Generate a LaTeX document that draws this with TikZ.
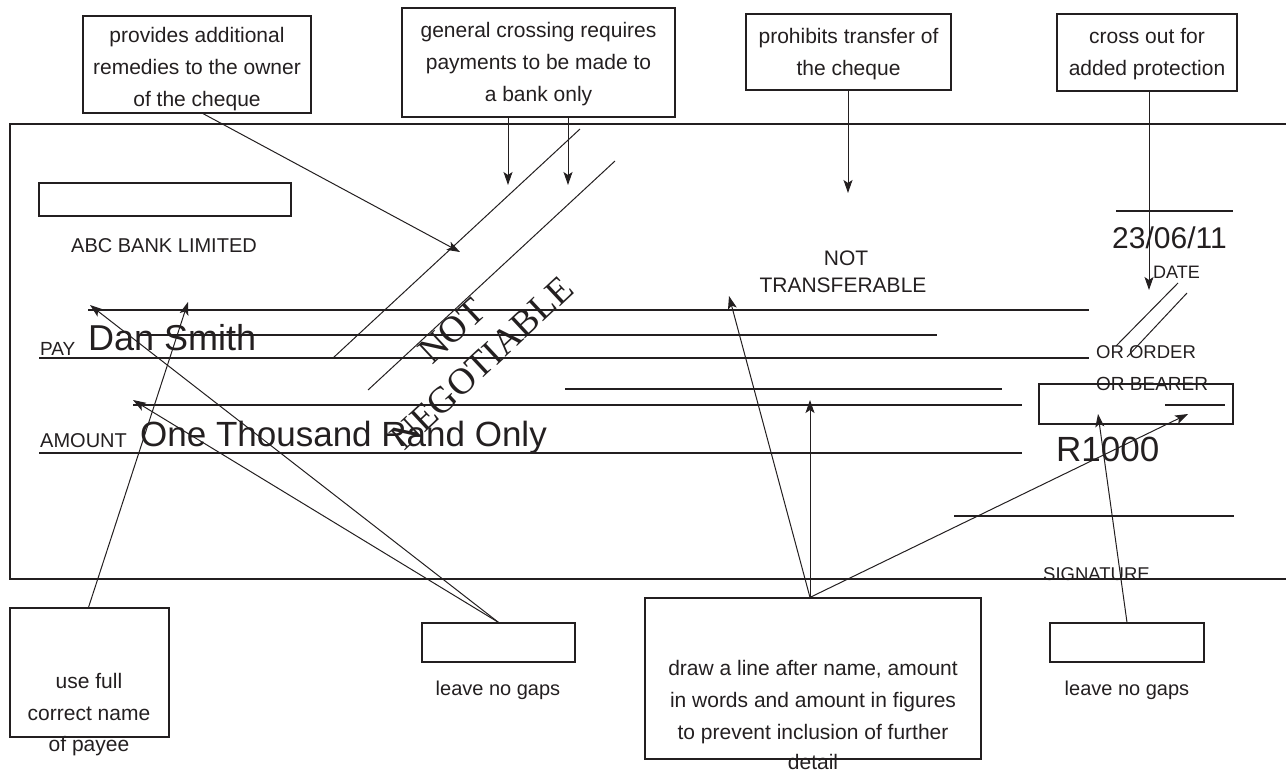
\documentclass[tikz,border=0pt]{standalone}
\usepackage{fontspec}
\setmainfont{Liberation Sans}
\newfontfamily\serifx{Liberation Serif}
\usetikzlibrary{arrows.meta,calc}
\definecolor{ink}{RGB}{35,31,32}
\begin{document}
\begin{tikzpicture}[x=1pt,y=-1pt,color=ink,
  thickline/.style={line width=2.6pt},
  thinline/.style={line width=1.2pt},
  conn/.style={line width=1pt},
  arr/.style={conn,-{Stealth[length=13pt,width=9pt,inset=3pt]}},
  callout/.style={draw,line width=1.2pt,align=center,inner sep=0pt,font=\fontsize{21}{32}\selectfont},
  emptybox/.style={draw,line width=1.2pt,inner sep=0pt},
  chequebox/.style={draw,line width=2.6pt,inner sep=0pt},
  lbl/.style={inner sep=0pt,anchor=base west},
  clbl/.style={inner sep=0pt,anchor=base,font=\fontsize{21}{25}\selectfont},
]
\useasboundingbox (0,0) rectangle (1286,771);

% cheque frame
\draw[thickline] (1286,124) -- (10,124) -- (10,579) -- (1286,579);

% top callouts
\node[callout,minimum width=228pt,minimum height=97pt] (box1) at (197,64.5) {\rule{0pt}{24pt}provides additional\\remedies to the owner\\of the cheque};
\node[callout,minimum width=273pt,minimum height=109pt] (box2) at (538.5,62.5) {\rule{0pt}{19pt}general crossing requires\\payments to be made to\\a bank only};
\node[callout,minimum width=205pt,minimum height=76pt] (box3) at (848.5,52) {\rule{0pt}{19pt}prohibits transfer of\\the cheque};
\node[callout,minimum width=180pt,minimum height=77pt] (box4) at (1147,52.5) {\rule{0pt}{19pt}cross out for\\added protection};

% cheque boxes
\node[chequebox,minimum width=252pt,minimum height=33pt] (bankbox) at (165,199.5) {};
\node[chequebox,minimum width=194pt,minimum height=40pt] (amtbox) at (1136,404) {};

% cheque lines
\draw[thickline] (88,310) -- (1089,310);
\draw[thinline] (140,335) -- (937,335);
\draw[thickline] (39,358) -- (1089,358);
\draw[thinline] (565,389) -- (1002,389);
\draw[thickline] (133,405) -- (1022,405);
\draw[thickline] (39,453) -- (1022,453);
\draw[thickline] (954,516) -- (1234,516);
\draw[thickline] (1116,211) -- (1233,211);
\draw[thinline] (1165,405) -- (1225,405);

% crossings
\draw[conn] (333,358) -- (580,129);
\draw[conn] (368,390) -- (615,161);
\draw[conn] (1116,346) -- (1178,283);
\draw[conn] (1127,357) -- (1187,293);

% cheque texts
\node[lbl,font=\fontsize{20}{24}\selectfont] (bank) at (71,252) {ABC BANK LIMITED};
\node[lbl,font=\fontsize{19}{23}\selectfont] (pay) at (40,355) {PAY};
\node[lbl,font=\fontsize{36}{40}\selectfont] (payee) at (88,350) {Dan Smith};
\node[lbl,font=\fontsize{20}{24}\selectfont] (amount) at (40,447) {AMOUNT};
\node[lbl,font=\fontsize{35}{40}\selectfont] (words) at (140,446) {One Thousand Rand Only};
\node[inner sep=0pt,anchor=base,font=\fontsize{21}{25}\selectfont] (nt1) at (846,265) {NOT};
\node[inner sep=0pt,anchor=base,font=\fontsize{21}{25}\selectfont] (nt2) at (843,292) {TRANSFERABLE};
\node[inner sep=0pt,rotate=43,align=center,font=\serifx\fontsize{37}{44}\selectfont] (nn) at (467,347) {NOT\\NEGOTIABLE};
\node[lbl,font=\fontsize{30}{34}\selectfont] (date) at (1112,248) {23/06/11};
\node[lbl,font=\fontsize{18}{22}\selectfont] (datelbl) at (1153,278) {DATE};
\node[lbl,font=\fontsize{18.5}{22}\selectfont] (order) at (1096,358) {OR ORDER};
\node[lbl,font=\fontsize{19}{22}\selectfont] (bearer) at (1096,390) {OR BEARER};
\node[lbl,font=\fontsize{35}{40}\selectfont] (figs) at (1056,461) {R1000};
\node[lbl,font=\fontsize{18.5}{22}\selectfont] (sig) at (1043,580) {SIGNATURE};

% bottom callouts
\node[emptybox,minimum width=159pt,minimum height=129pt] (b1) at (89.5,672.5) {};
\node[clbl] (b1t1) at (89,688) {use full};
\node[clbl] (b1t2) at (89,720) {correct name};
\node[clbl] (b1t3) at (89,751) {of payee};
\node[emptybox,minimum width=153pt,minimum height=39pt] (b2) at (498.5,642.5) {};
\node[clbl,font=\fontsize{20}{24}\selectfont] (b2t) at (498,695) {leave no gaps};
\node[emptybox,minimum width=336pt,minimum height=161pt] (b3) at (813,678.5) {};
\node[clbl] (b3t1) at (813,675) {draw a line after name, amount};
\node[clbl] (b3t2) at (813,707) {in words and amount in figures};
\node[clbl] (b3t3) at (813,739) {to prevent inclusion of further};
\node[clbl] (b3t4) at (813,769) {detail};
\node[emptybox,minimum width=154pt,minimum height=39pt] (b4) at (1127,642.5) {};
\node[clbl,font=\fontsize{20}{24}\selectfont] (b4t) at (1127,695) {leave no gaps};

% arrow targets
\coordinate (t1) at (460,252);
\coordinate (t2a) at (508,185);
\coordinate (t2b) at (568,185);
\coordinate (t3) at (848,193);
\coordinate (t4) at (1149,290);
\coordinate (u1) at (188,302);
\coordinate (u2a) at (90,305);
\coordinate (u2b) at (133,400);
\coordinate (u3a) at (729,296);
\coordinate (u3b) at (810,400);
\coordinate (u3c) at (1188,414);
\coordinate (u4) at (1098,414);

% connectors
\draw[arr] ($(box1.south)+(6,0)$) -- (t1);
\draw[arr] (box2.south -| t2a) -- (t2a);
\draw[arr] (box2.south -| t2b) -- (t2b);
\draw[arr] (box3.south -| t3) -- (t3);
\draw[arr] (box4.south -| t4) -- (t4);
\draw[arr] ($(b1.north)+(-1,0)$) -- (u1);
\draw[arr] (b2.north) -- (u2a);
\draw[arr] (b2.north) -- (u2b);
\draw[arr] ($(b3.north)+(-3,0)$) -- (u3a);
\draw[arr] (b3.north -| u3b) -- (u3b);
\draw[arr] ($(b3.north)+(-3,0)$) -- (u3c);
\draw[arr] (b4.north) -- (u4);
\end{tikzpicture}
\end{document}
